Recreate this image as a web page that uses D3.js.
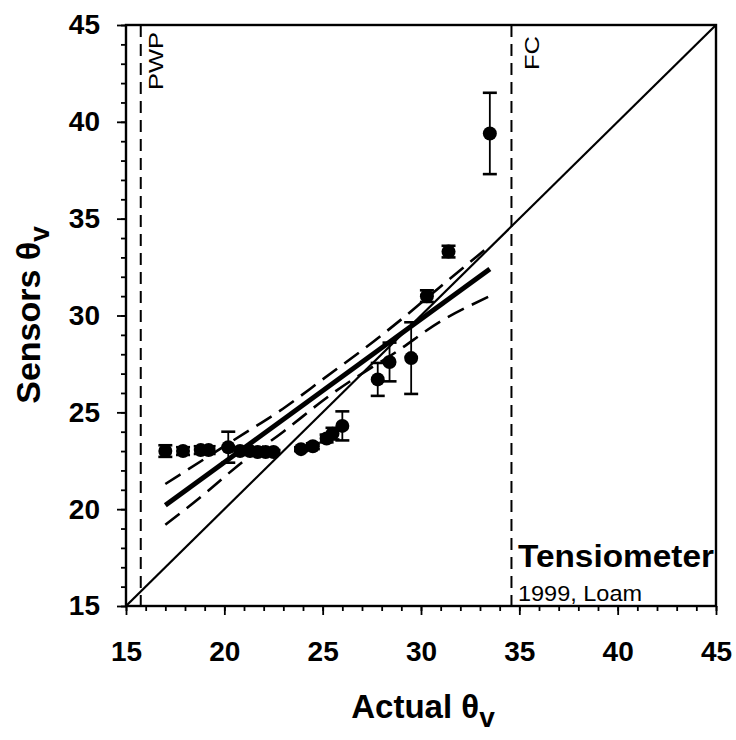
<!DOCTYPE html>
<html>
<head>
<meta charset="utf-8">
<script src="https://cdn.jsdelivr.net/npm/d3@7"></script>
<style>
  body { margin: 0; background: #fff; }
  text { font-family: "Liberation Sans", Arial, sans-serif; }
</style>
</head>
<body>
<script>
// values
var actual  = [17.0, 17.9, 18.8, 19.2, 20.2, 20.8, 21.3, 21.7, 22.1, 22.5, 23.9, 24.5, 25.2, 25.5, 26.0, 27.8, 28.4, 29.5, 30.3, 31.4, 33.5];
var sensors = [23.0, 23.0, 23.05, 23.05, 23.2, 23.0, 23.0, 22.95, 22.95, 22.95, 23.1, 23.25, 23.65, 23.9, 24.3, 26.7, 27.6, 27.8, 31.0, 33.3, 39.4];
var errs    = [0.3, 0.2, 0.2, 0.2, 0.8, 0.2, 0.1, 0.1, 0.1, 0.1, 0.1, 0.15, 0.2, 0.3, 0.75, 0.85, 1.0, 1.85, 0.3, 0.3, 2.1];

var fitX = [17, 33.5];
var fitY = [20.2, 32.4];

var bandX     = [17, 19, 21, 23, 25, 27, 29, 31, 33.5];
var bandUpper = [21.3, 22.6, 23.9, 25.2, 26.7, 28.2, 29.8, 31.5, 33.6];
var bandLower = [19.2, 20.8, 22.5, 24.0, 25.6, 27.0, 28.3, 29.7, 31.0];

var oneToOne = [15, 45];
var pwp = 15.75;
var fc = 34.6;

var majorTicks = [15, 20, 25, 30, 35, 40, 45];
var minorTicks = d3.range(15, 46, 1);

var w = 736, h = 740;

var svg = d3.select('body').append('svg')
    .attr('width', w)
    .attr('height', h);

var xScale = d3.scaleLinear().domain([15, 45]).range([126, 716]);
var yScale = d3.scaleLinear().domain([15, 45]).range([606, 25]);

// axes - minor ticks first, then major with labels
var xMinor = d3.axisBottom(xScale).tickValues(minorTicks).tickSize(5).tickFormat('');
var xMajor = d3.axisBottom(xScale).tickValues(majorTicks).tickSize(9).tickPadding(26).tickFormat(d3.format('d'));
var yMinor = d3.axisLeft(yScale).tickValues(minorTicks).tickSize(5).tickFormat('');
var yMajor = d3.axisLeft(yScale).tickValues(majorTicks).tickSize(9).tickPadding(17).tickFormat(d3.format('d'));

function styleAxis(g) {
    g.select('.domain').remove();
    g.selectAll('line').attr('stroke', '#000').attr('stroke-width', 1.8);
    g.selectAll('text')
        .attr('fill', '#000')
        .style('font-size', '28px')
        .style('font-weight', 'bold');
}

svg.append('g').attr('transform', 'translate(0,606)').call(xMinor).call(styleAxis);
svg.append('g').attr('transform', 'translate(0,606)').call(xMajor).call(styleAxis);
svg.append('g').attr('transform', 'translate(126,0)').call(yMinor).call(styleAxis);
svg.append('g').attr('transform', 'translate(126,0)').call(yMajor).call(styleAxis);

// frame
svg.append('rect')
    .attr('x', xScale(15)).attr('y', yScale(45))
    .attr('width', xScale(45) - xScale(15))
    .attr('height', yScale(15) - yScale(45))
    .attr('fill', 'none').attr('stroke', '#000').attr('stroke-width', 2.4);

// PWP and FC lines
[pwp, fc].forEach(function(v) {
    svg.append('line')
        .attr('x1', xScale(v)).attr('x2', xScale(v))
        .attr('y1', yScale(45)).attr('y2', yScale(15))
        .attr('stroke', '#000').attr('stroke-width', 2)
        .attr('stroke-dasharray', '12,7');
});

svg.append('text')
    .attr('transform', 'translate(' + (xScale(pwp) + 22) + ',' + 32 + ') rotate(-90)')
    .attr('text-anchor', 'end')
    .attr('textLength', 58).attr('lengthAdjust', 'spacingAndGlyphs')
    .style('font-size', '20px')
    .text('PWP');

svg.append('text')
    .attr('transform', 'translate(' + (xScale(fc) + 28) + ',' + 36 + ') rotate(-90)')
    .attr('text-anchor', 'end')
    .attr('textLength', 34).attr('lengthAdjust', 'spacingAndGlyphs')
    .style('font-size', '21px')
    .text('FC');

// 1:1 line
var line = d3.line()
    .x(function(d) { return xScale(d[0]); })
    .y(function(d) { return yScale(d[1]); });

svg.append('path')
    .datum(oneToOne.map(function(v) { return [v, v]; }))
    .attr('d', line)
    .attr('fill', 'none').attr('stroke', '#000').attr('stroke-width', 2.2);

// regression and confidence band
svg.append('path')
    .datum(fitX.map(function(v, i) { return [v, fitY[i]]; }))
    .attr('d', line)
    .attr('fill', 'none').attr('stroke', '#000').attr('stroke-width', 5);

var bandLine = d3.line()
    .x(function(d) { return xScale(d[0]); })
    .y(function(d) { return yScale(d[1]); })
    .curve(d3.curveNatural);

[bandUpper, bandLower].forEach(function(arr) {
    svg.append('path')
        .datum(bandX.map(function(v, i) { return [v, arr[i]]; }))
        .attr('d', bandLine)
        .attr('fill', 'none').attr('stroke', '#000').attr('stroke-width', 2.6)
        .attr('stroke-dasharray', '18,9');
});

// error bars
var pts = actual.map(function(v, i) { return {x: v, y: sensors[i], e: errs[i]}; });

var eb = svg.append('g').selectAll('g')
    .data(pts)
    .enter()
    .append('g');

eb.append('line')
    .attr('x1', function(d) { return xScale(d.x); })
    .attr('x2', function(d) { return xScale(d.x); })
    .attr('y1', function(d) { return yScale(d.y + d.e); })
    .attr('y2', function(d) { return yScale(d.y - d.e); })
    .attr('stroke', '#000').attr('stroke-width', 1.8);

[1, -1].forEach(function(s) {
    eb.append('line')
        .attr('x1', function(d) { return xScale(d.x) - 7; })
        .attr('x2', function(d) { return xScale(d.x) + 7; })
        .attr('y1', function(d) { return yScale(d.y + s * d.e); })
        .attr('y2', function(d) { return yScale(d.y + s * d.e); })
        .attr('stroke', '#000').attr('stroke-width', 2.6);
});

svg.append('g').selectAll('circle')
    .data(pts)
    .enter()
    .append('circle')
    .attr('cx', function(d) { return xScale(d.x); })
    .attr('cy', function(d) { return yScale(d.y); })
    .attr('r', 7)
    .attr('fill', '#000');

// legend text
svg.append('text')
    .attr('x', 518).attr('y', 567)
    .attr('textLength', 196).attr('lengthAdjust', 'spacingAndGlyphs')
    .style('font-size', '31px').style('font-weight', 'bold')
    .text('Tensiometer');

svg.append('text')
    .attr('x', 518).attr('y', 601)
    .attr('textLength', 124).attr('lengthAdjust', 'spacingAndGlyphs')
    .style('font-size', '22px')
    .text('1999, Loam');

// axis titles
var xt = svg.append('text')
    .attr('x', 423).attr('y', 718)
    .attr('text-anchor', 'middle')
    .style('font-size', '33px').style('font-weight', 'bold');
xt.append('tspan').text('Actual \u03b8');
xt.append('tspan').attr('dy', 9).style('font-size', '28px').text('v');

var yt = svg.append('text')
    .attr('transform', 'translate(40,' + 315 + ') rotate(-90)')
    .attr('text-anchor', 'middle')
    .style('font-size', '34px').style('font-weight', 'bold');
yt.append('tspan').text('Sensors \u03b8');
yt.append('tspan').attr('dy', 9).style('font-size', '28px').text('v');
</script>
</body>
</html>
